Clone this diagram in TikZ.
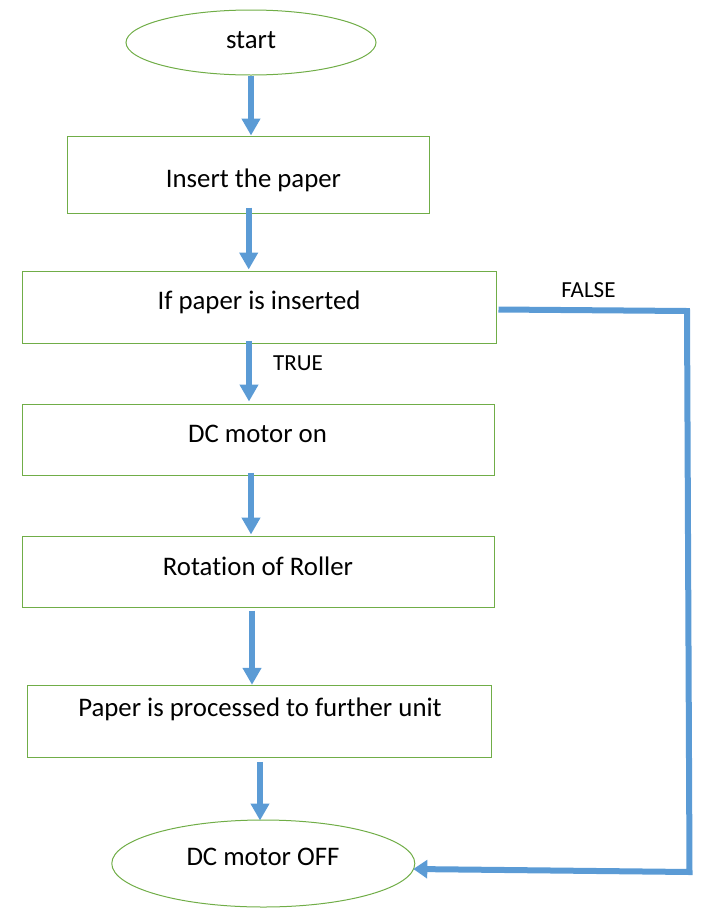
\documentclass[tikz,border=0pt]{standalone}
\usepackage{fontspec}
\setmainfont[Ligatures=NoCommon]{Carlito}
\usetikzlibrary{arrows.meta,calc,shapes.geometric}
\definecolor{bordergreen}{HTML}{70AD47}
\definecolor{arrowblue}{HTML}{5B9BD5}
\begin{document}
\begin{tikzpicture}[x=1pt,y=-1pt,
  box/.style={draw=bordergreen,line width=1pt,rectangle,inner sep=0pt},
  oval/.style={draw=bordergreen,line width=1pt,ellipse,inner sep=0pt},
  txt/.style={anchor=base,inner sep=0pt,font=\fontsize{26.8}{32}\selectfont},
  lbl/.style={anchor=base,inner sep=0pt,font=\fontsize{23}{28}\selectfont},
  arr/.style={draw=arrowblue,line width=6pt,-{Triangle[width=18pt,length=17pt]}},
  loop/.style={draw=arrowblue,line width=6pt,line join=miter,-{Triangle[width=18pt,length=14pt]}}]
\useasboundingbox (0,0) rectangle (702,924);
% shapes
\node[oval,minimum width=250pt,minimum height=65pt] (start) at (251,42.5) {};
\node[box,minimum width=362pt,minimum height=77pt] (insert) at (248,174.5) {};
\node[box,minimum width=474pt,minimum height=72pt] (ifp) at (259,307) {};
\node[box,minimum width=472pt,minimum height=71pt] (dcon) at (258,439.5) {};
\node[box,minimum width=472pt,minimum height=71pt] (rot) at (258,571.5) {};
\node[box,minimum width=464pt,minimum height=72pt] (proc) at (259.3,721.3) {};
\node[oval,minimum width=303pt,minimum height=87pt] (off) at (263.3,863.5) {};
% texts
\node[txt] (tstart) at (251,48.5) {start};
\node[txt] (tinsert) at (253.5,187) {Insert the paper};
\node[txt] (tifp) at (259,309) {If paper is inserted};
\node[txt] (tdcon) at (257.5,442) {DC motor on};
\node[txt] (trot) at (258,575) {Rotation of Roller};
\node[txt] (tproc) at (260,716) {Paper is processed to further unit};
\node[txt] (toff) at (263,865) {DC motor OFF};
\node[lbl] (ltrue) at (298,370.5) {TRUE};
\node[lbl] (lfalse) at (588.5,297.5) {FALSE};
% arrows
\draw[arr] (start.south) -- (start.south |- insert.north);
\draw[arr] ($(insert.south)+(0.7,-6)$) -- ($(insert.south |- ifp.north)+(0.7,-1)$);
\draw[arr] ($(ifp.south)+(-10,-3)$) -- ($(ifp.south |- dcon.north)+(-10,-2)$);
\draw[arr] ($(dcon.south)+(-7,-3)$) -- ($(dcon.south |- rot.north)+(-7,-1)$);
\draw[arr] ($(rot.south)+(-6,3)$) -- ($(rot.south |- proc.north)+(-6,0)$);
\draw[arr] ($(proc.south)+(0.7,4)$) -- ($(proc.south |- off.north)+(0.7,1)$);
% FALSE loop
\coordinate (f0) at ($(ifp.east)+(2,2.5)$);
\coordinate (f1) at (687,311);
\coordinate (f2) at (689.5,872);
\coordinate (f3) at ($(off.east)+(-2,5.5)$);
\draw[loop] (f0) -- (f1) -- (f2) -- (f3);
\end{tikzpicture}
\end{document}
